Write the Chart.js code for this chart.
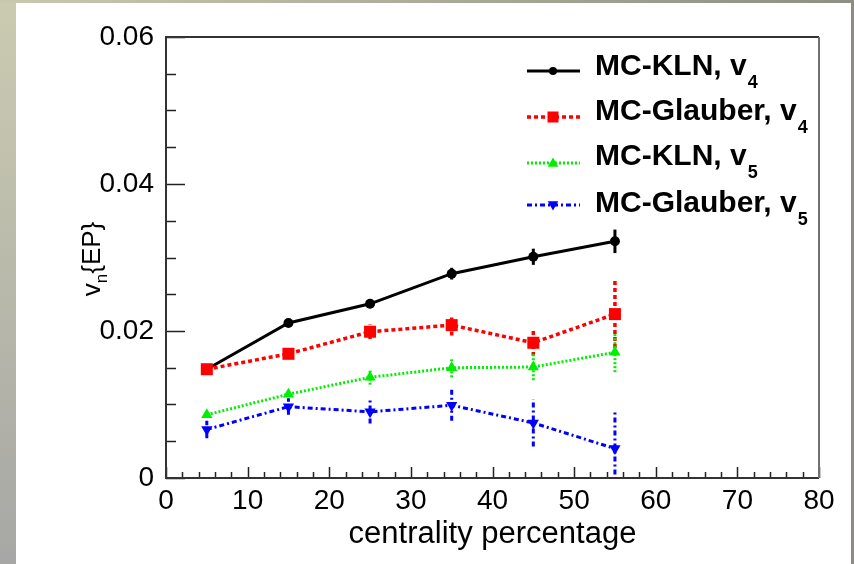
<!DOCTYPE html>
<html>
<head>
<meta charset="utf-8">
<script src="https://cdn.jsdelivr.net/npm/chart.js@4/dist/chart.umd.min.js"></script>
<style>
  html, body { margin: 0; padding: 0; }
  body { width: 854px; height: 564px; position: relative; overflow: hidden;
         background: linear-gradient(to bottom, #cbcbb1, #a7a7a5); }
  #topbar { position: absolute; left: 0; top: 0; width: 854px; height: 3px;
            background: linear-gradient(to right, #c9c9b0, #8e8e82); }
  #rightbar { position: absolute; right: 0; top: 0; width: 3px; height: 564px; background: #8c8c80; }
  #wrap { position: absolute; left: 16px; top: 3px; width: 835px; height: 561px; background: #fff; }
</style>
</head>
<body>
<div id="topbar"></div>
<div id="rightbar"></div>
<div id="wrap"><canvas id="vnChart" width="835" height="561"></canvas></div>
<script>
// centrality bins (percent)
var centrality = [5, 15, 25, 35, 45, 55];

// v4 / v5 from event-plane method, with errors
var klnV4       = [0.0148, 0.0211, 0.0237, 0.0278, 0.0301, 0.0322];
var klnV4Err    = [0.0004, 0.0004, 0.0006, 0.0008, 0.0011, 0.0016];
var glauberV4    = [0.0148, 0.0169, 0.0199, 0.0208, 0.0184, 0.0223];
var glauberV4Err = [0.0004, 0.0007, 0.0010, 0.0014, 0.0018, 0.0046];
var klnV5       = [0.0086, 0.0114, 0.0137, 0.0150, 0.0151, 0.0171];
var klnV5Err    = [0.0004, 0.0008, 0.0010, 0.0013, 0.0018, 0.0027];
var glauberV5    = [0.0066, 0.0097, 0.0090, 0.0099, 0.0075, 0.0040];
var glauberV5Err = [0.0012, 0.0011, 0.0016, 0.0021, 0.0032, 0.0053];

var xTicks = [0, 10, 20, 30, 40, 50, 60, 70, 80];
var yTicks = [0, 0.02, 0.04, 0.06];

function pts(ys) {
  return centrality.map(function (x, i) { return { x: x, y: ys[i] }; });
}

var series = [
  { name: 'MC-KLN, v', sub: '4', data: klnV4, err: klnV4Err, color: '#000000',
    dash: [], width: 3, style: 'circle', radius: 5, rot: 0, order: 4 },
  { name: 'MC-Glauber, v', sub: '4', data: glauberV4, err: glauberV4Err, color: '#ff0000',
    dash: [4, 3], width: 3.5, style: 'rect', radius: 8.5, rot: 0, order: 3 },
  { name: 'MC-KLN, v', sub: '5', data: klnV5, err: klnV5Err, color: '#00ee00',
    dash: [2, 2], width: 3, style: 'triangle', radius: 6.5, rot: 0, order: 2 },
  { name: 'MC-Glauber, v', sub: '5', data: glauberV5, err: glauberV5Err, color: '#0000ff',
    dash: [5, 3, 2, 3], width: 3, style: 'triangle', radius: 6.5, rot: 180, order: 1 }
];

var FONT = '"Liberation Sans", Arial, Helvetica, sans-serif';

// vertical error bars, same line style as the series
var errorBars = {
  id: 'errorBars',
  beforeDatasetsDraw: function (chart) {
    var ctx = chart.ctx, xs = chart.scales.x, ys = chart.scales.y, a = chart.chartArea;
    ctx.save();
    ctx.beginPath();
    ctx.rect(a.left, a.top, a.right - a.left, a.bottom - a.top);
    ctx.clip();
    series.forEach(function (s) {
      ctx.strokeStyle = s.color;
      ctx.lineWidth = s.width;
      ctx.setLineDash(s.dash);
      centrality.forEach(function (c, i) {
        var px = xs.getPixelForValue(c);
        ctx.beginPath();
        ctx.moveTo(px, ys.getPixelForValue(s.data[i] - s.err[i]));
        ctx.lineTo(px, ys.getPixelForValue(s.data[i] + s.err[i]));
        ctx.stroke();
      });
    });
    ctx.restore();
  }
};

function drawMarker(ctx, style, rot, r, x, y) {
  ctx.save();
  ctx.translate(x, y);
  ctx.rotate(rot * Math.PI / 180);
  ctx.beginPath();
  if (style === 'circle') {
    ctx.arc(0, 0, r, 0, Math.PI * 2);
  } else if (style === 'rect') {
    ctx.rect(-r, -r, 2 * r, 2 * r);
  } else {
    ctx.moveTo(0, -r);
    ctx.lineTo(r * 0.95, r * 0.7);
    ctx.lineTo(-r * 0.95, r * 0.7);
    ctx.closePath();
  }
  ctx.fill();
  ctx.restore();
}

// frame, inward ticks, y title and legend
var frameAndLegend = {
  id: 'frameAndLegend',
  afterDraw: function (chart) {
    var ctx = chart.ctx, xs = chart.scales.x, ys = chart.scales.y, a = chart.chartArea;
    ctx.save();
    ctx.setLineDash([]);
    ctx.strokeStyle = '#222';
    ctx.lineWidth = 1.5;

    // ticks on x axis: major every 10, minor every 2
    for (var v = 0; v <= 80; v += 2) {
      var px = Math.round(xs.getPixelForValue(v)) + 0.5;
      var len = (v % 10 === 0) ? 11 : 6;
      ctx.beginPath(); ctx.moveTo(px, a.bottom); ctx.lineTo(px, a.bottom - len); ctx.stroke();
    }
    // ticks on y axis: major every 0.02, minor every 0.005
    for (var k = 0; k <= 12; k++) {
      var py = Math.round(ys.getPixelForValue(k * 0.005)) + 0.5;
      var ylen = (k % 4 === 0) ? 19 : 10;
      ctx.beginPath(); ctx.moveTo(a.left, py); ctx.lineTo(a.left + ylen, py); ctx.stroke();
    }

    // frame
    ctx.lineWidth = 2;
    ctx.strokeStyle = '#333';
    ctx.beginPath();
    ctx.moveTo(a.right, a.top); ctx.lineTo(a.left, a.top);
    ctx.lineTo(a.left, a.bottom); ctx.lineTo(a.right, a.bottom);
    ctx.stroke();
    ctx.strokeStyle = '#707070';
    ctx.beginPath(); ctx.moveTo(a.right, a.top); ctx.lineTo(a.right, a.bottom); ctx.stroke();

    // y title: v_n{EP}
    ctx.save();
    ctx.translate(84, 256);
    ctx.rotate(-Math.PI / 2);
    ctx.fillStyle = '#000';
    ctx.textBaseline = 'alphabetic';
    ctx.font = '26px ' + FONT;
    var wv = ctx.measureText('v').width;
    ctx.font = '17px ' + FONT;
    var wn = ctx.measureText('n').width;
    ctx.font = '26px ' + FONT;
    var wr = ctx.measureText('{EP}').width;
    var x0 = -(wv + wn + wr) / 2;
    ctx.fillText('v', x0, 0);
    ctx.font = '17px ' + FONT;
    ctx.fillText('n', x0 + wv, 7);
    ctx.font = '26px ' + FONT;
    ctx.fillText('{EP}', x0 + wv + wn, 0);
    ctx.restore();

    // legend
    var rowsText = [72, 117, 162, 209];
    var rowsLine = [68, 114, 160, 202];
    series.forEach(function (s, i) {
      var ly = rowsLine[i];
      ctx.strokeStyle = s.color;
      ctx.fillStyle = s.color;
      ctx.lineWidth = s.width;
      ctx.setLineDash(s.dash);
      ctx.beginPath(); ctx.moveTo(511, ly); ctx.lineTo(564, ly); ctx.stroke();
      ctx.setLineDash([]);
      drawMarker(ctx, s.style, s.rot, s.style === 'rect' ? 5.5 : (s.style === 'circle' ? 4 : 5.5), 537, ly);

      ctx.fillStyle = '#000';
      ctx.font = 'bold 30px ' + FONT;
      ctx.fillText(s.name, 579, rowsText[i]);
      var w = ctx.measureText(s.name).width;
      ctx.font = 'bold 18px ' + FONT;
      ctx.fillText(s.sub, 579 + w + 1, rowsText[i] + 13);
    });
    ctx.restore();
  }
};

var ctx = document.getElementById('vnChart').getContext('2d');
var chart = new Chart(ctx, {
  type: 'line',
  data: {
    datasets: series.map(function (s) {
      return {
        label: s.name + s.sub,
        data: pts(s.data),
        borderColor: s.color,
        backgroundColor: s.color,
        borderWidth: s.width,
        borderDash: s.dash,
        pointStyle: s.style,
        pointRadius: s.radius,
        pointRotation: s.rot,
        pointBorderWidth: 0,
        pointBackgroundColor: s.color,
        tension: 0,
        fill: false,
        order: s.order
      };
    })
  },
  options: {
    responsive: false,
    animation: false,
    devicePixelRatio: 1,
    layout: { padding: { left: 0, top: 34, right: 32, bottom: 0 } },
    plugins: { legend: { display: false }, tooltip: { enabled: false } },
    scales: {
      x: {
        type: 'linear', min: 0, max: 80,
        afterFit: function (s) { s.height = 86; },
        afterBuildTicks: function (s) { s.ticks = xTicks.map(function (v) { return { value: v }; }); },
        grid: { display: false },
        border: { display: false },
        ticks: { color: '#000', font: { family: FONT, size: 28 }, padding: -2, maxRotation: 0 },
        title: { display: true, text: 'centrality percentage', color: '#000',
                 font: { family: FONT, size: 31 }, padding: { top: 0, bottom: 11 } }
      },
      y: {
        min: 0, max: 0.06,
        afterFit: function (s) { s.width = 150; },
        afterBuildTicks: function (s) { s.ticks = yTicks.map(function (v) { return { value: v }; }); },
        grid: { display: false },
        border: { display: false },
        ticks: { color: '#000', font: { family: FONT, size: 28 }, padding: 4,
                 callback: function (v) { return v === 0 ? '0' : v.toFixed(2); } }
      }
    }
  },
  plugins: [errorBars, frameAndLegend]
});
</script>
</body>
</html>
